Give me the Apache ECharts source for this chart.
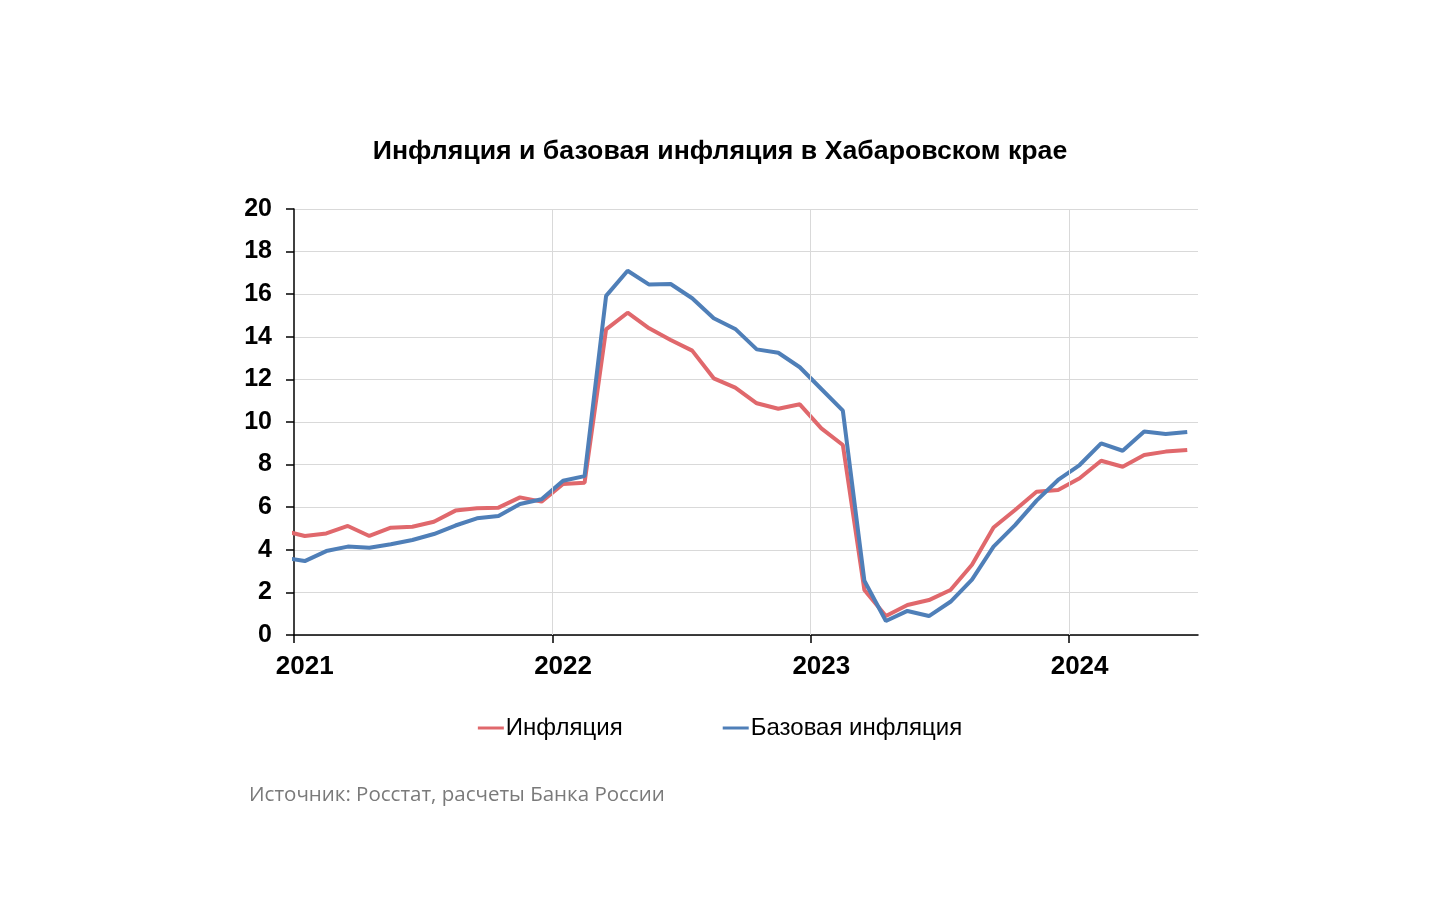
<!DOCTYPE html>
<html>
<head>
<meta charset="utf-8">
<script src="https://cdn.jsdelivr.net/npm/echarts@6/dist/echarts.min.js"></script>
<style>
  html, body { margin: 0; padding: 0; background: #ffffff; }
  #chart { width: 1440px; height: 900px; }
</style>
</head>
<body>
<div id="chart"></div>
<script>
// Months from Dec 2020 (partially visible at the left edge) to Jun 2024
const months = [
  '2020-12',
  '2021-01','2021-02','2021-03','2021-04','2021-05','2021-06','2021-07','2021-08','2021-09','2021-10','2021-11','2021-12',
  '2022-01','2022-02','2022-03','2022-04','2022-05','2022-06','2022-07','2022-08','2022-09','2022-10','2022-11','2022-12',
  '2023-01','2023-02','2023-03','2023-04','2023-05','2023-06','2023-07','2023-08','2023-09','2023-10','2023-11','2023-12',
  '2024-01','2024-02','2024-03','2024-04','2024-05','2024-06'
];
const inflation = [
  4.89,
  4.65, 4.77, 5.12, 4.65, 5.04, 5.08, 5.32, 5.84, 5.95, 5.98, 6.46, 6.26,
  7.09, 7.15, 14.35, 15.13, 14.40, 13.85, 13.35, 12.05, 11.61, 10.88, 10.62, 10.83,
  9.70, 8.92, 2.11, 0.89, 1.41, 1.64, 2.11, 3.30, 5.05, 5.87, 6.73, 6.81,
  7.36, 8.18, 7.90, 8.45, 8.61, 8.69
];
const coreInflation = [
  3.63,
  3.47, 3.94, 4.15, 4.10, 4.26, 4.46, 4.74, 5.14, 5.48, 5.59, 6.15, 6.37,
  7.24, 7.46, 15.92, 17.10, 16.45, 16.48, 15.81, 14.87, 14.37, 13.41, 13.25, 12.57,
  11.55, 10.53, 2.55, 0.66, 1.13, 0.89, 1.56, 2.60, 4.15, 5.16, 6.31, 7.28,
  7.98, 9.00, 8.65, 9.55, 9.44, 9.53
];
const yearLabels = ['2021', '2022', '2023', '2024'];
const seriesNames = ['Инфляция', 'Базовая инфляция'];
const yTicks = [0, 2, 4, 6, 8, 10, 12, 14, 16, 18, 20];
const titleText = 'Инфляция и базовая инфляция в Хабаровском крае';
const sourceText = 'Источник: Росстат, расчеты Банка России';

// position of each month = months elapsed since Jan 2021, at mid-month
function monthPos(m) {
  const [y, mo] = m.split('-').map(Number);
  return (y - 2021) * 12 + (mo - 1) + 0.5;
}
const yearStarts = yearLabels.map((y, i) => i * 12);
const yearMids = yearLabels.map((y, i) => i * 12 + 0.5);

const chart = echarts.init(document.getElementById('chart'), null, { renderer: 'canvas' });
const font = '"Liberation Sans", Arial, sans-serif';

chart.setOption({
  animation: false,
  backgroundColor: '#ffffff',
  title: [
    {
      text: titleText,
      left: 'center',
      top: 133,
      textStyle: { fontFamily: font, fontSize: 26.7, fontWeight: 'bold', color: '#000000' }
    },
    {
      text: sourceText,
      left: 244,
      top: 780,
      textStyle: { fontFamily: '"Open Sans", sans-serif', fontSize: 20.5, fontWeight: 'normal', color: '#7a7a7a' }
    }
  ],
  legend: {
    data: seriesNames,
    left: 'center',
    top: 711,
    itemGap: 100,
    itemWidth: 26,
    itemHeight: 3,
    icon: 'rect',
    textStyle: { fontFamily: font, fontSize: 24, color: '#000000', padding: [0, 0, 0, -3] }
  },
  grid: { left: 294, right: 242, top: 209, bottom: 265 },
  xAxis: {
    type: 'value',
    min: 0,
    max: 42,
    interval: 12,
    axisLine: { show: true, lineStyle: { color: '#000000', width: 1.5 } },
    axisTick: { show: true, length: 8, lineStyle: { color: '#000000', width: 1.5 }, customValues: yearStarts },
    axisLabel: {
      customValues: yearMids,
      formatter: v => yearLabels[Math.floor(v / 12)] || '',
      fontFamily: font, fontSize: 26, fontWeight: 'bold', color: '#000000', margin: 19
    },
    splitLine: { show: false }
  },
  yAxis: {
    type: 'value',
    min: 0,
    max: 20,
    interval: 2,
    axisLine: { show: true, lineStyle: { color: '#000000', width: 1.5 } },
    axisTick: { show: true, length: 8, lineStyle: { color: '#000000', width: 1.5 } },
    axisLabel: {
      formatter: v => yTicks.includes(v) ? String(v) : '',
      fontFamily: font, fontSize: 25, fontWeight: 'bold', color: '#000000', margin: 22
    },
    splitLine: { show: true, lineStyle: { color: '#d9d9d9', width: 1 } }
  },
  series: [
    {
      name: seriesNames[0],
      type: 'line',
      clip: true,
      symbol: 'none',
      color: '#e0686c',
      lineStyle: { width: 4, color: '#e0686c' },
      data: months.map((m, i) => [monthPos(m), inflation[i]]),
      markLine: {
        silent: true,
        symbol: ['none', 'none'],
        label: { show: false },
        lineStyle: { color: '#d9d9d9', width: 1, type: 'solid' },
        data: yearStarts.slice(1).map(v => ({ xAxis: v }))
      },
      z: 3
    },
    {
      name: seriesNames[1],
      type: 'line',
      clip: true,
      symbol: 'none',
      color: '#4f7fb8',
      lineStyle: { width: 4, color: '#4f7fb8' },
      data: months.map((m, i) => [monthPos(m), coreInflation[i]]),
      z: 4
    }
  ]
});
</script>
</body>
</html>
